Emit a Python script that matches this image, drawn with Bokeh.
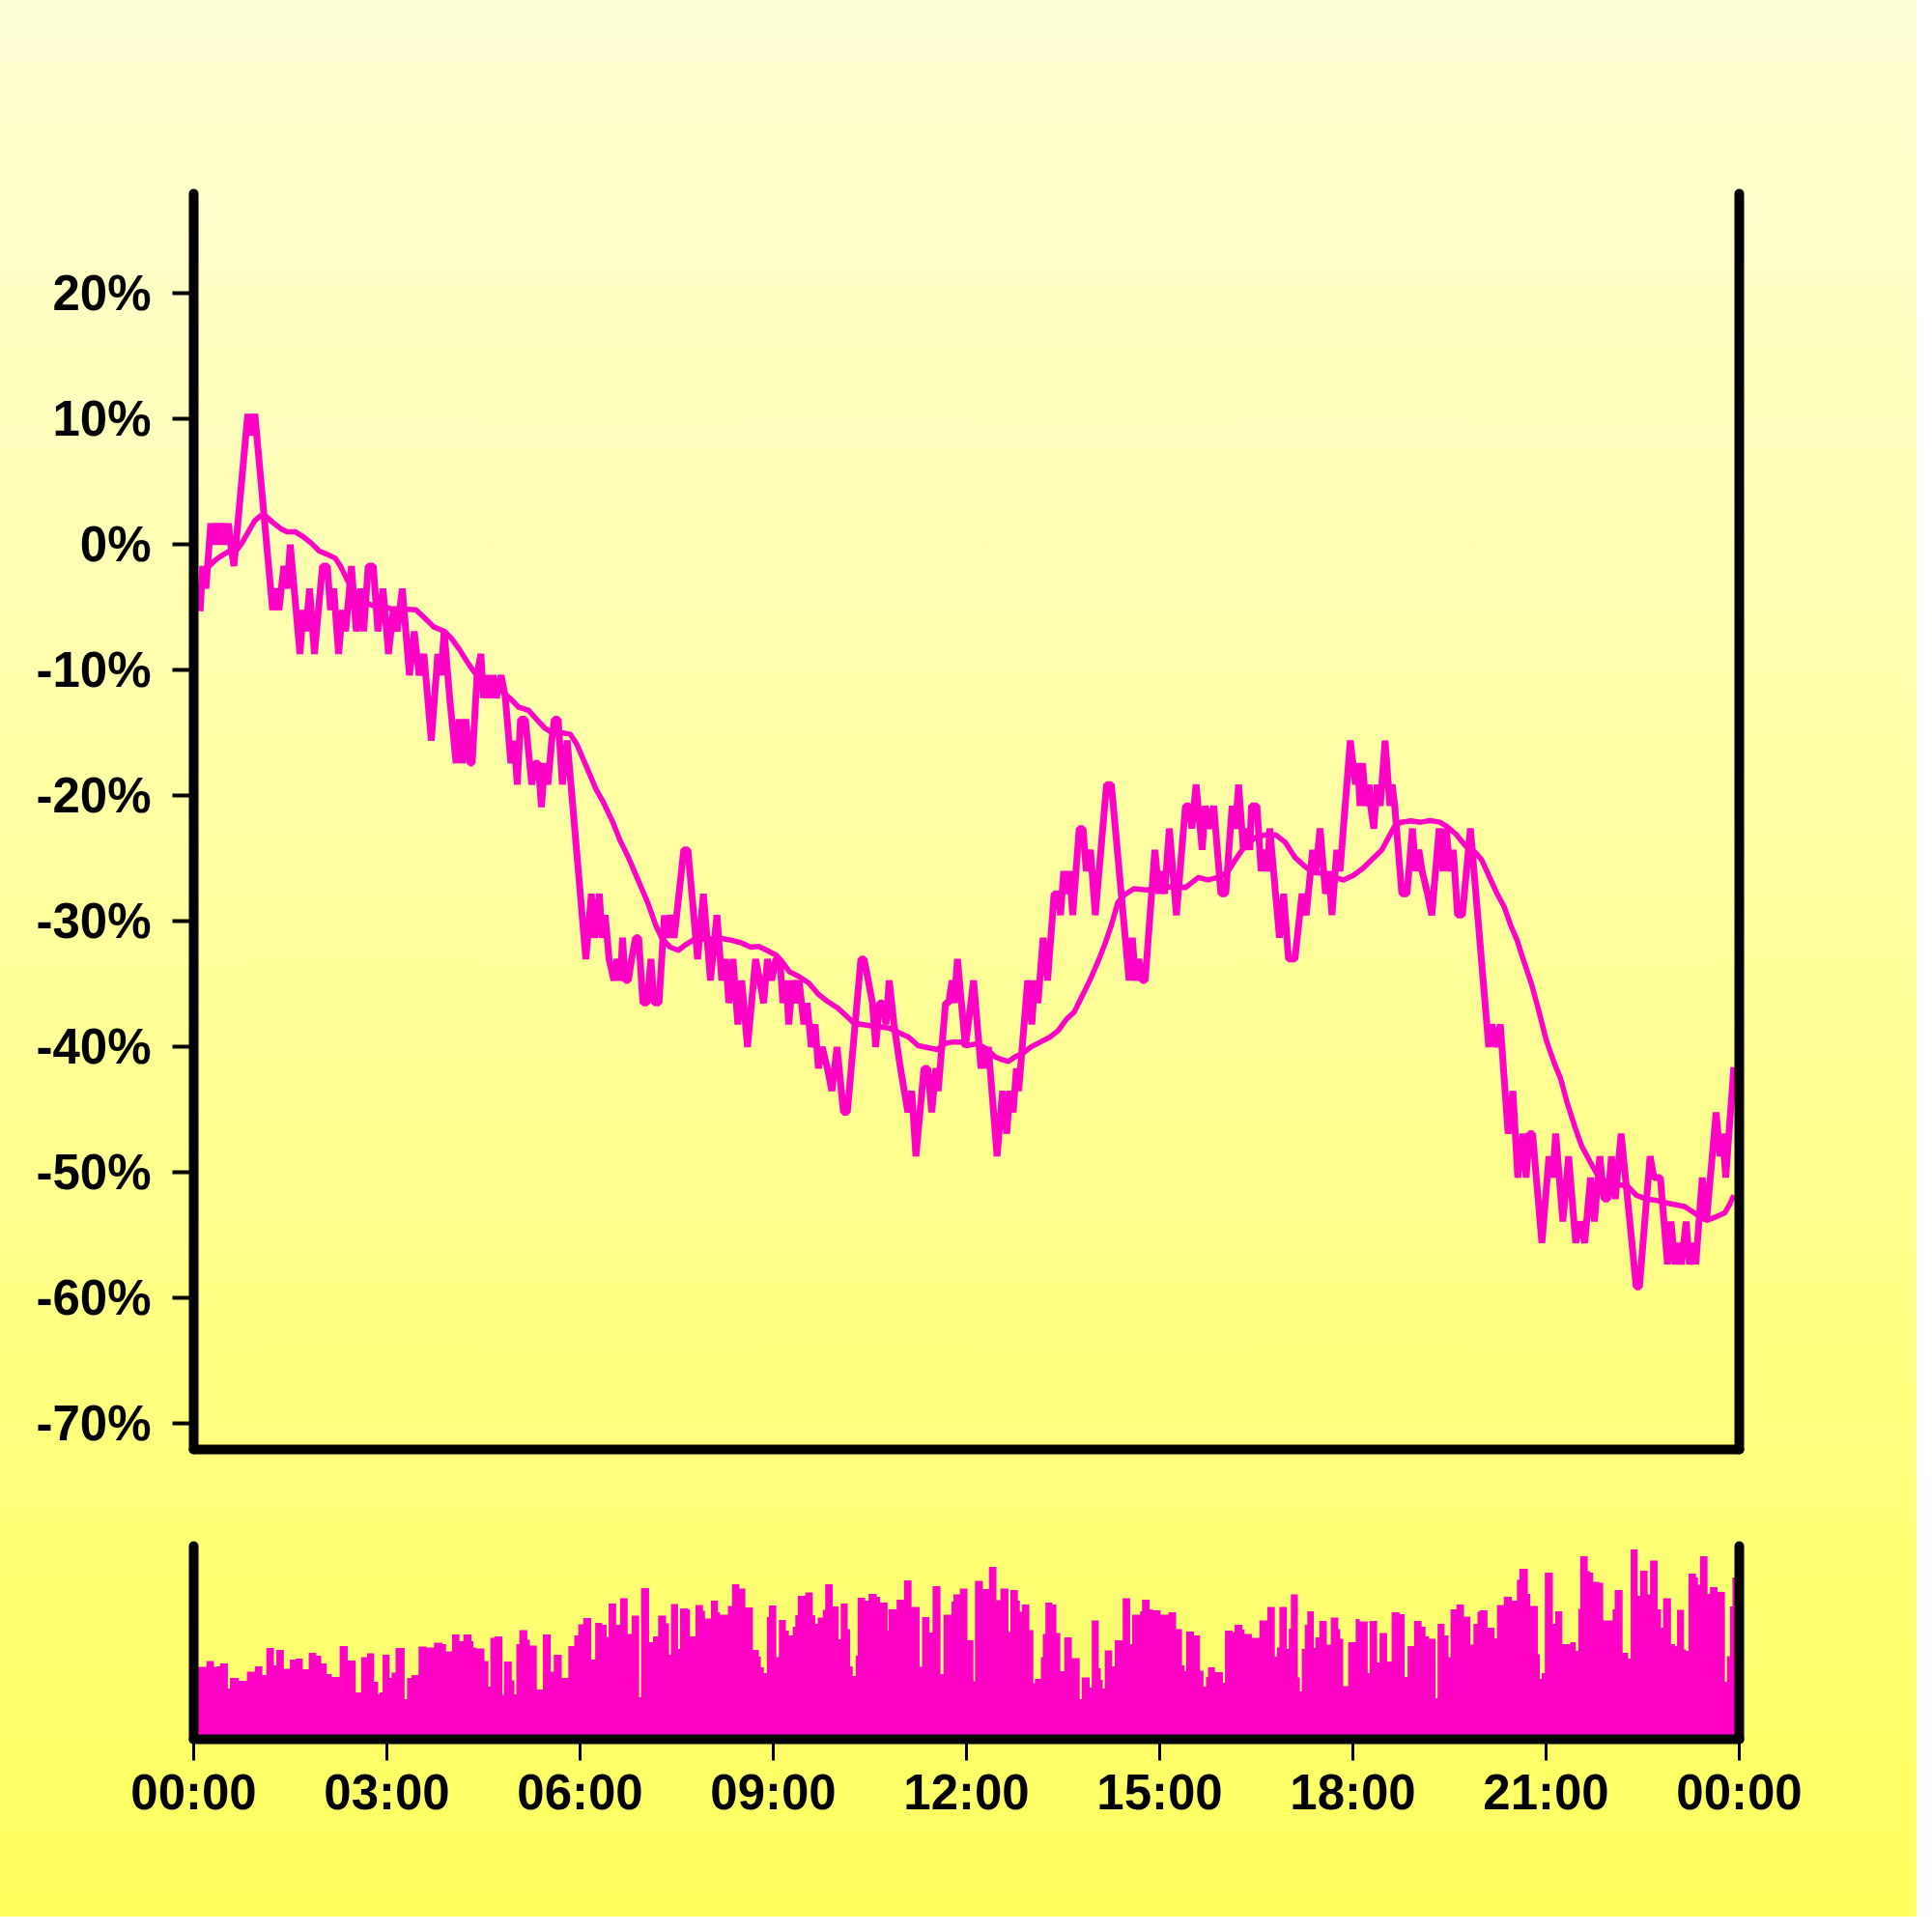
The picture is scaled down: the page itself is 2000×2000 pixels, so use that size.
from bokeh.plotting import figure
from bokeh.layouts import column
from bokeh.models import LinearAxis, FixedTicker, Range1d
from bokeh.embed import file_html
from bokeh.resources import INLINE

# ---------------- data (time in minutes since 00:00) ----------------
price_time = [6.0, 8.4, 11.4, 15.9, 18.0, 20.4, 23.4, 26.4, 29.4, 32.4, 34.5, 37.5,
              50.4, 53.4, 57.0, 73.5, 76.5, 79.5, 84.0, 87.0, 90.0, 99.0, 102.0, 104.4,
              108.0, 112.5, 120.0, 124.5, 127.5, 130.5, 135.0, 138.6, 141.6, 147.0, 151.5,
              155.4, 158.4, 162.6, 167.4, 171.6, 176.4, 181.5, 186.0, 189.6, 194.4, 201.0,
              205.5, 210.0, 214.5, 221.4, 227.4, 230.4, 233.4, 238.5, 244.5, 247.5, 250.5,
              253.5, 257.4, 259.5, 264.0, 267.6, 270.0, 273.0, 276.0, 279.0, 282.0, 286.5,
              290.4, 295.5, 298.5, 301.5, 304.5, 309.0, 315.0, 318.0, 321.0, 324.0, 327.0,
              330.0, 333.6, 336.0, 339.6, 343.5, 348.0,
              365.4, 370.5, 373.5, 378.0, 380.4, 383.4, 387.0, 391.5, 394.5, 397.5, 399.6,
              402.0, 405.0, 408.0, 411.6, 414.6, 418.5, 422.4, 426.0, 429.0, 433.5, 438.6,
              441.0, 444.6, 447.6, 450.0, 456.6, 460.5, 469.5, 474.9, 481.5, 487.5, 492.0,
              495.6, 498.6, 502.5, 507.0, 510.6, 516.0, 523.5, 527.4, 531.0, 534.6, 538.5,
              542.4, 546.0, 549.0, 552.0, 554.4, 558.0, 561.6, 564.0, 568.5, 571.5, 575.4,
              579.0, 582.0, 585.6, 590.4, 594.6, 599.4, 605.4, 609.0, 621.6, 624.6, 628.5,
              632.4, 635.4, 639.0, 642.0, 645.0, 648.0, 652.5, 655.5, 658.5, 665.4, 669.0,
              672.9, 680.4, 684.0, 687.6, 691.5, 693.6, 700.5, 703.5, 706.5, 708.6, 711.6,
              719.0,
              726.6, 733.5, 736.5, 738.6, 740.4, 748.5, 753.6, 757.5, 760.5, 763.5, 766.5,
              768.6, 777.0, 780.9, 783.6, 786.6, 791.4, 795.6, 801.6, 805.5, 807.6, 810.6,
              813.2, 816.0, 819.0, 825.0, 828.6, 831.6, 835.5, 840.0, 850.5, 855.0, 871.5,
              874.5, 877.5, 880.5, 883.5, 886.5, 895.5, 899.4, 901.5, 904.5, 909.0, 915.6,
              924.0, 927.6, 930.0, 933.9, 939.6, 942.6, 945.6, 950.4, 957.0, 961.5, 967.5,
              970.5, 973.5, 978.0, 981.0, 984.0, 985.5, 990.6, 994.5, 997.5, 1000.5, 1002.6,
              1011.6, 1015.5, 1020.0, 1026.0, 1032.6, 1036.5, 1042.5, 1045.5, 1049.4, 1054.5,
              1057.5, 1060.5, 1065.0, 1068.0, 1077.6,
              1082.4, 1084.5, 1086.6, 1089.0, 1092.0, 1095.0, 1096.5, 1099.5, 1102.5, 1105.5,
              1110.0, 1114.5, 1116.6, 1119.0, 1125.6, 1130.4, 1135.5, 1138.5, 1141.5, 1144.5,
              1149.6, 1153.5, 1160.4, 1164.0, 1167.0, 1170.6, 1173.6, 1177.5, 1182.0, 1189.5,
              1206.6, 1209.6, 1213.5, 1217.4, 1224.6, 1229.1, 1233.6, 1238.4, 1241.4, 1244.4,
              1247.4, 1256.1, 1262.7, 1266.0, 1269.0, 1275.6, 1281.0, 1287.6, 1291.5, 1296.0,
              1301.4, 1305.0, 1310.1, 1314.0, 1317.6, 1320.9, 1324.5, 1329.9, 1344.0, 1347.0,
              1356.9, 1360.5, 1366.5, 1373.1, 1376.4, 1380.0, 1383.0, 1386.0, 1390.5, 1393.5,
              1397.4, 1399.5, 1405.5, 1409.4, 1418.4, 1422.0, 1424.4, 1427.4, 1434.9]
price_change = [-5.3, -1.7, -3.5, 1.7, 0.0, 1.7, 0.0, 1.7, 0.0, 1.7, 0.0, -1.7,
                10.4, 8.7, 10.4, -5.2, -3.5, -5.2, -1.7, -3.5, 0.0, -8.7, -5.2, -6.9,
                -3.5, -8.7, -1.7, -1.7, -5.2, -3.5, -8.7, -5.2, -6.9, -1.7, -6.9,
                -3.5, -6.9, -1.7, -1.7, -6.9, -3.5, -8.7, -5.2, -6.9, -3.5, -10.4,
                -6.9, -10.4, -8.7, -15.6, -8.7, -10.4, -6.9, -12.2, -17.4, -13.9, -17.4,
                -13.9, -17.4, -17.4, -10.4, -8.7, -12.2, -10.4, -12.2, -10.4, -12.2, -10.4,
                -12.2, -17.4, -15.6, -19.1, -13.9, -13.9, -19.1, -17.4, -17.4, -20.9, -17.4,
                -19.1, -15.6, -13.9, -13.9, -19.1, -15.6,
                -33.0, -27.8, -31.3, -27.8, -31.3, -29.5, -33.0, -34.7, -33.0, -34.7, -31.3,
                -34.7, -34.7, -33.0, -31.3, -31.3, -36.5, -36.5, -33.0, -36.5, -36.5, -29.5,
                -31.3, -29.5, -31.3, -29.5, -24.3, -24.3, -33.0, -27.8, -34.7, -29.5, -34.7,
                -33.0, -36.5, -33.0, -38.2, -34.7, -40.0, -33.0, -34.7, -36.5, -33.0, -34.7,
                -33.0, -33.0, -36.5, -34.7, -38.2, -34.7, -36.5, -34.7, -38.2, -36.5, -40.0,
                -38.2, -41.7, -40.0, -41.7, -43.5, -40.0, -45.2, -45.2, -33.0, -33.0, -34.7,
                -36.5, -40.0, -36.5, -36.5, -38.2, -34.7, -38.2, -40.0, -41.7, -45.2, -43.5,
                -48.7, -41.7, -41.7, -45.2, -41.7, -43.5, -36.5, -36.5, -34.7, -36.5, -33.0,
                -40.0,
                -34.7, -41.7, -40.0, -41.7, -40.0, -48.7, -43.5, -46.9, -43.5, -45.2, -41.7,
                -43.5, -34.7, -38.2, -34.7, -36.5, -31.3, -34.7, -27.8, -27.8, -29.5, -26.0,
                -27.8, -26.0, -29.5, -22.6, -22.6, -26.0, -24.3, -29.5, -19.1, -19.1, -34.7,
                -31.3, -34.7, -33.0, -34.7, -34.7, -24.3, -27.8, -26.0, -27.8, -22.6, -29.5,
                -20.8, -20.8, -22.6, -19.1, -24.3, -20.8, -22.6, -20.8, -27.8, -27.8, -20.8,
                -22.6, -19.1, -24.3, -22.6, -24.3, -20.8, -20.8, -26.0, -24.3, -26.0, -22.6,
                -31.3, -27.8, -33.0, -33.0, -27.8, -29.5, -24.3, -26.0, -22.6, -27.8,
                -26.0, -29.5, -24.3, -26.0, -15.6,
                -19.1, -17.4, -20.8, -17.4, -20.8, -19.1, -20.8, -22.6, -19.1, -20.8,
                -15.6, -20.8, -19.1, -20.8, -27.8, -27.8, -22.6, -26.0, -24.3, -26.0,
                -27.8, -29.5, -22.6, -26.0, -22.6, -26.0, -24.3, -29.5, -29.5, -22.6,
                -40.0, -38.2, -40.0, -38.2, -46.9, -43.5, -50.4, -46.9, -50.4, -46.9,
                -46.9, -55.6, -48.7, -50.4, -46.9, -53.9, -48.7, -55.6, -53.9, -55.6,
                -50.4, -53.9, -48.7, -52.1, -52.1, -48.7, -52.1, -46.9, -59.1, -59.1,
                -48.7, -50.4, -50.4, -57.3, -53.9, -57.3, -55.6, -57.3, -53.9, -57.3,
                -55.6, -57.3, -50.4, -53.9, -45.2, -48.7, -46.9, -50.4, -41.6]

avg_time = [6.0, 9.0, 13.5, 19.5, 25.5, 33.0, 40.5, 45.0, 51.0, 57.0, 62.4, 67.5, 73.5,
            81.0, 87.0, 94.5, 102.0, 109.5, 117.0, 124.5, 132.0, 136.5, 144.0, 150.0,
            159.0, 168.0, 177.0, 183.0, 195.0, 207.0, 216.0, 223.5, 234.0, 240.0, 247.5,
            255.0, 261.0, 268.5, 279.0, 288.0, 295.5, 303.0, 312.0, 319.5, 327.0, 334.5,
            345.0, 351.0, 357.0, 366.0, 375.0, 381.0, 390.0, 397.5, 405.0, 414.0, 423.0,
            430.5, 436.5, 444.0, 451.5, 457.5, 465.0, 474.0, 483.0, 492.0, 501.0, 510.0,
            519.0, 526.5, 534.0, 543.0, 549.0, 555.0, 564.0, 573.0, 582.0, 591.0, 600.0,
            609.0, 615.0, 622.5, 630.0, 639.0, 648.0, 657.0, 666.0, 675.0, 684.0, 693.0,
            700.5, 708.0, 715.5, 720.0, 729.0, 738.0, 747.0, 753.0, 759.0, 765.0, 772.5,
            780.0, 789.0, 798.0, 805.5, 813.0, 820.5, 828.0, 835.5, 843.0, 849.0, 855.0,
            861.0, 867.0, 876.0, 888.0, 900.0, 912.0, 924.0, 930.0, 936.0, 945.0, 954.0,
            963.0, 972.0, 981.0, 990.0, 999.0, 1008.0, 1017.0, 1026.0, 1035.0, 1042.5,
            1050.0, 1059.0, 1071.0, 1080.0, 1089.0, 1098.0, 1107.0, 1113.0, 1119.0, 1125.0,
            1134.0, 1143.0, 1152.0, 1161.0, 1167.0, 1176.0, 1185.0, 1194.0, 1200.0, 1209.0,
            1215.0, 1221.0, 1227.0, 1233.0, 1239.0, 1246.5, 1252.5, 1260.0, 1267.5, 1273.5,
            1279.5, 1287.0, 1293.0, 1302.0, 1308.0, 1317.0, 1326.0, 1335.0, 1344.0, 1353.0,
            1362.0, 1371.0, 1380.0, 1389.0, 1398.0, 1405.5, 1410.0, 1419.0, 1426.5, 1431.0,
            1434.9]
avg_change = [-3.85, -2.56, -1.79, -1.28, -0.9, -0.51, -0.38, 0.13, 1.03, 1.92, 2.3, 2.25,
              1.79, 1.28, 1.03, 1.03, 0.64, 0.13, -0.51, -0.77, -1.08, -1.67, -2.95, -3.85,
              -4.62, -4.87, -4.92, -5.08, -5.13, -5.18, -5.9, -6.54, -6.92, -7.44, -8.33,
              -9.36, -10.1, -10.8, -11.3, -11.7, -12.3, -12.95, -13.2, -13.9, -14.6, -15.0,
              -15.0, -15.1, -15.9, -17.7, -19.5, -20.4, -22.0, -23.6, -24.9, -26.7, -28.5,
              -30.3, -31.4, -32.05, -32.3, -31.9, -31.5, -31.4, -31.4, -31.36, -31.5, -31.7,
              -32.05, -32.0, -32.3, -32.7, -33.3, -34.0, -34.4, -34.9, -35.8, -36.4, -36.9,
              -37.6, -38.1, -38.2, -38.3, -38.4, -38.5, -38.85, -39.2, -39.9, -40.05, -40.2,
              -39.7, -39.6, -39.6, -39.9, -39.75, -40.1, -40.8, -41.0, -41.15, -40.8, -40.5,
              -40.0, -39.6, -39.2, -38.7, -37.8, -37.2, -35.9, -34.6, -33.1, -31.8, -30.3,
              -28.5, -27.9, -27.4, -27.5, -27.4, -27.2, -27.3, -26.9, -26.5, -26.7, -26.5,
              -26.1, -24.9, -23.8, -23.3, -23.1, -23.1, -23.7, -24.9, -25.6, -26.1,
              -26.15, -26.4, -26.7, -26.35, -25.8, -25.05, -24.3, -23.35, -22.4, -22.1,
              -22.0, -22.1, -21.98, -22.1, -22.4, -23.05, -24.0, -24.5, -25.1, -26.8,
              -27.9, -28.85, -30.3, -31.5, -33.1, -35.0, -36.9, -39.4, -41.25, -42.5,
              -44.4, -46.4, -47.85, -49.3, -50.2, -50.8, -51.0, -51.0, -51.8, -52.1,
              -52.2, -52.4, -52.55, -52.7, -53.2, -53.65, -53.8, -53.5, -53.2, -52.55,
              -51.8]

vol_start = [0.0, 11.9, 18.9, 21.2, 24.5, 31.9, 33.8, 42.1, 49.6, 57.0, 64.0, 67.7, 74.7,
             77.0, 84.0, 89.6, 95.1, 101.6, 107.2, 114.2, 118.8, 124.0, 128.6, 136.0, 143.5,
             150.9, 156.0, 161.6, 168.1, 171.8, 173.2, 176.0, 182.5, 184.4, 188.1, 196.5,
             198.8, 203.0, 209.5, 216.9, 223.9, 231.8, 235.1, 240.7, 247.6, 251.3, 258.8,
             260.6, 263.4, 270.9, 274.6, 276.4, 280.2, 287.6, 289.0, 296.4, 298.8, 300.6,
             303.4, 310.9, 313.2, 319.7, 325.3, 332.7, 335.5, 342.9, 349.0, 354.6, 358.3,
             362.9, 370.4, 374.1, 380.6, 384.8, 386.6, 393.6, 397.3, 404.3, 408.0, 415.0,
             416.8, 424.3, 428.0, 432.7, 440.1, 442.9, 444.7, 451.3, 453.1, 460.5, 462.4,
             467.5, 474.5, 476.4, 481.9, 488.4, 490.3, 497.7, 501.5, 508.4, 514.0, 521.0,
             526.6, 528.4, 531.2, 534.0, 535.9, 542.8, 545.2, 551.7, 554.5, 558.2, 560.5,
             562.8, 569.8, 576.8, 579.1, 581.4, 586.1, 588.4, 595.4, 600.9, 602.8, 609.3,
             611.6, 614.0, 616.8, 618.6, 625.6, 628.8, 636.3, 639.5, 646.5, 647.4, 654.9,
             661.8, 668.8, 676.3, 678.6, 685.6, 688.4, 695.8, 698.6, 706.0, 707.9, 713.9,
             720.9, 726.5, 727.9, 735.3, 740.9, 747.9, 751.6, 759.1, 760.9, 767.9, 769.7,
             771.6, 778.6, 782.3, 783.7, 789.3, 791.1, 793.5, 800.0, 803.7, 807.4, 811.1,
             818.1, 825.5, 827.4, 834.8, 836.7, 843.2, 845.1, 846.9, 848.8, 855.7, 858.1,
             865.5, 872.5, 874.3, 881.8, 883.6, 890.6, 893.4, 900.8, 908.3, 915.3, 920.8,
             923.2, 924.6, 932.0, 937.6, 940.8, 943.2, 945.0, 951.5, 959.0, 960.8, 967.8,
             969.7, 977.1, 979.0, 985.9, 992.9, 1000.3, 1007.3, 1009.2, 1011.5, 1018.5,
             1020.3, 1022.2, 1028.7, 1030.6, 1032.4, 1035.2, 1037.5, 1043.6, 1045.0, 1048.7,
             1055.7, 1059.4, 1066.4, 1068.2, 1071.0, 1075.6, 1082.6, 1086.3, 1093.8, 1095.6,
             1102.6, 1104.9, 1111.9, 1116.1, 1123.5, 1128.2, 1131.0, 1137.0, 1144.0, 1147.7,
             1151.0, 1157.0, 1158.9, 1165.4, 1169.1, 1171.0, 1176.5, 1183.5, 1189.5, 1192.3,
             1196.1, 1197.9, 1205.4, 1211.9, 1214.2, 1220.7, 1228.1, 1232.8, 1235.1, 1243.0,
             1245.3, 1252.3, 1254.2, 1256.0, 1258.8, 1266.3, 1268.6, 1275.1, 1282.5, 1287.6,
             1290.0, 1291.8, 1298.8, 1301.1, 1303.9, 1309.5, 1313.2, 1322.0, 1323.9, 1331.3,
             1336.5, 1338.8, 1345.3, 1347.6, 1354.6, 1356.9, 1363.9, 1367.1, 1369.0, 1376.4,
             1380.2, 1382.0, 1388.5, 1390.4, 1392.7, 1399.7, 1401.5, 1403.4, 1410.4, 1412.7,
             1419.7, 1426.6, 1428.5, 1431.3, 1433.6]
vol_value = [37.5, 40.5, 37.5, 37.8, 39.2, 26.2, 31.7, 30.3, 35.0, 37.8, 33.3, 47.2, 38.3,
             46.3, 36.5, 41.2, 41.8, 36.2, 44.7, 43.3, 39.2, 33.7, 32.3, 48.3, 40.8,
             24.2, 42.5, 44.5, 29.7, 23.3, 24.2, 43.8, 31.7, 34.5, 47.2, 20.8,
             31.7, 33.3, 48.0, 47.5, 50.0, 49.2, 45.5, 54.2, 50.7, 54.2, 50.8,
             47.5, 47.0, 40.5, 27.3, 52.5, 53.3, 23.0, 40.3, 30.5, 23.3, 49.2,
             56.5, 51.5, 48.5, 25.8, 54.2, 35.0, 43.7, 31.7, 48.3, 53.8, 59.5,
             62.8, 41.2, 60.3, 59.2, 53.0, 70.3, 59.2, 73.0, 54.5, 64.0, 21.7,
             78.3, 50.3, 53.3, 64.0, 60.0, 43.7, 70.0, 46.7, 67.8, 67.2, 53.3,
             69.5, 66.5, 62.5, 71.7, 65.8, 64.5, 69.0, 80.3, 78.0, 68.3, 46.3,
             42.8, 37.2, 34.2, 63.3, 69.3, 42.5, 61.7, 56.2, 53.7, 58.3, 64.2,
             74.3, 76.0, 64.2, 59.7, 63.0, 67.0, 80.3, 68.7, 51.7, 70.2, 57.0,
             37.8, 32.7, 43.3, 73.3, 71.7, 75.2, 73.8, 70.7, 56.2, 67.3, 72.3,
             82.3, 68.5, 37.5, 63.3, 55.3, 79.2, 33.7, 64.5, 71.3, 75.0, 78.0,
             51.3, 30.0, 82.0, 77.8, 89.3, 72.0, 78.0, 55.5, 77.3, 71.7, 66.0,
             69.7, 56.5, 29.0, 31.3, 42.5, 54.5, 70.8, 69.7, 55.0, 35.3, 52.8,
             42.0, 20.8, 32.0, 26.7, 61.5, 36.7, 30.7, 26.3, 46.0, 37.7, 51.3,
             73.0, 49.2, 64.5, 66.3, 72.3, 67.3, 66.8, 64.5, 65.8, 57.0, 38.2,
             35.3, 55.8, 53.7, 35.5, 27.2, 32.2, 37.3, 34.7, 29.2, 56.3, 55.5,
             59.2, 56.7, 54.5, 52.5, 61.5, 68.5, 42.8, 47.5, 68.5, 46.7,
             57.3, 75.0, 32.0, 24.7, 46.7, 59.2, 66.2, 47.3, 52.8, 61.3,
             49.0, 63.0, 57.0, 52.0, 27.5, 50.2, 62.3, 61.0, 34.2, 61.3,
             39.7, 55.0, 40.3, 65.7, 64.7, 32.2, 48.3, 61.3, 58.3, 53.3,
             52.0, 21.2, 59.8, 53.7, 42.5, 67.2, 69.8, 63.5, 49.0, 59.7,
             66.0, 66.7, 57.8, 52.3, 69.5, 73.8, 71.7, 82.5, 88.3, 75.3,
             69.0, 44.0, 31.3, 34.3, 86.2, 59.7, 66.2, 49.3, 50.3, 45.8,
             67.5, 94.8, 87.0, 86.2, 81.5, 81.0, 61.5, 67.3, 77.3, 44.7,
             41.7, 98.3, 74.3, 87.3, 75.0, 92.5, 67.3, 57.8, 73.0, 49.2,
             48.3, 67.0, 46.5, 45.8, 85.7, 83.7, 80.0, 94.7, 75.3, 78.8,
             76.3, 29.7, 43.0, 68.8, 83.7]

x_ticks = [0, 180, 360, 540, 720, 900, 1080, 1260, 1440]
x_tick_labels = ["00:00", "03:00", "06:00", "09:00", "12:00", "15:00", "18:00", "21:00", "00:00"]
y_ticks = [-70, -60, -50, -40, -30, -20, -10, 0, 10, 20]
y_tick_labels = ["-70%", "-60%", "-50%", "-40%", "-30%", "-20%", "-10%", "0%", "10%", "20%"]

# ---------------- styling ----------------
MAGENTA = "#ff02c6"
FONT = "Liberation Sans"
W = 1984
LABEL_SIZE = "51px"


def style_axis(ax, ticks=None, labels=None, tick_width=4):
    ax.axis_line_width = 10
    ax.axis_line_color = "black"
    ax.axis_line_cap = "round"
    ax.minor_tick_line_color = None
    if ticks is None:
        ax.ticker = FixedTicker(ticks=[])
        ax.major_tick_line_color = None
        ax.major_label_text_font_size = "0px"
    else:
        ax.ticker = FixedTicker(ticks=ticks)
        ax.major_label_overrides = {t: l for t, l in zip(ticks, labels)}
        ax.major_tick_line_color = "black"
        ax.major_tick_line_width = tick_width
        ax.major_tick_out = 22
        ax.major_tick_in = 0
        ax.major_label_text_font = FONT
        ax.major_label_text_font_style = "bold"
        ax.major_label_text_font_size = LABEL_SIZE
        ax.major_label_text_color = "black"


def base_fig(height, y_range, top_border, bottom_border):
    f = figure(width=W, height=height, x_range=Range1d(0, 1440), y_range=y_range,
               output_backend="svg", toolbar_location=None, title=None,
               min_border_left=200, min_border_right=184,
               min_border_top=top_border, min_border_bottom=bottom_border)
    f.background_fill_color = None
    f.border_fill_color = None
    f.outline_line_color = None
    f.xgrid.grid_line_color = None
    f.ygrid.grid_line_color = None
    return f


# price chart: frame 200..1800 x, 200..1500 y
top = base_fig(1550, Range1d(-72.05, 27.95), 200, 50)
style_axis(top.xaxis[0])
style_axis(top.yaxis[0], y_ticks, y_tick_labels, tick_width=4)
top.yaxis[0].major_label_standoff = 22
right1 = LinearAxis()
style_axis(right1)
top.add_layout(right1, "right")

top.line(avg_time, avg_change, line_color=MAGENTA, line_width=5.5, line_join="round")
top.line(price_time, price_change, line_color=MAGENTA, line_width=7, line_join="bevel")

# volume chart: frame 1600..1800 y
bot = base_fig(434, Range1d(0, 100), 50, 184)
style_axis(bot.xaxis[0], x_ticks, x_tick_labels, tick_width=3)
bot.xaxis[0].major_label_standoff = 4
style_axis(bot.yaxis[0])
right2 = LinearAxis()
style_axis(right2)
bot.add_layout(right2, "right")

bot.varea_step(x=vol_start + [1440.0], y1=0, y2=vol_value + [vol_value[-1]],
               step_mode="after", fill_color=MAGENTA)

layout = column(top, bot, spacing=0,
                styles={"background": "linear-gradient(180deg, #ffffd6 0%, #ffff5f 100%)"})

open("out.html", "w").write(file_html(layout, INLINE))
